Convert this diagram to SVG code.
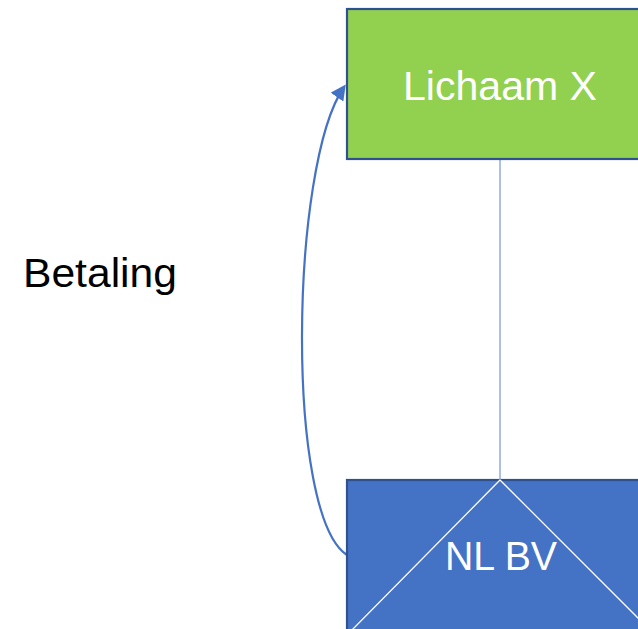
<svg xmlns="http://www.w3.org/2000/svg" width="638" height="629" viewBox="0 0 638 629">
<style>
.lbl{font-family:"Liberation Sans",Arial,sans-serif;font-size:40px;}
.w{fill:#ffffff;}
</style>
<defs>
<marker id="ah" viewBox="0 0 10 10" refX="8" refY="5" markerWidth="7" markerHeight="7" markerUnits="strokeWidth" orient="auto">
<path d="M0,0 L10,5 L0,10 z" fill="#4472C4"/>
</marker>
</defs>
<rect width="638" height="629" fill="#ffffff"/>
<g id="connectors">
<line x1="500" y1="159" x2="500" y2="480" stroke="#7F9FD8" stroke-width="1.3"/>
<path d="M347,555 C285,515 290,165 344,87" fill="none" stroke="#4472C4" stroke-width="2.2" marker-end="url(#ah)"/>
</g>
<g id="lichaam-x">
<rect x="347" y="9" width="300" height="150" fill="#92D050" stroke="#2F528F" stroke-width="2.2"/>
<text class="lbl w" x="403" y="100" textLength="194" lengthAdjust="spacingAndGlyphs">Lichaam X</text>
</g>
<g id="nl-bv">
<rect x="347" y="480" width="300" height="160" fill="#4472C4" stroke="#2F528F" stroke-width="2.2"/>
<polyline points="351,631 500,480 652,632" fill="none" stroke="#ffffff" stroke-width="1.3"/>
<text class="lbl w" x="445" y="570" textLength="112" lengthAdjust="spacingAndGlyphs">NL BV</text>
</g>
<g id="betaling">
<text class="lbl" x="23" y="287" fill="#000000" textLength="154" lengthAdjust="spacingAndGlyphs">Betaling</text>
</g>
</svg>
